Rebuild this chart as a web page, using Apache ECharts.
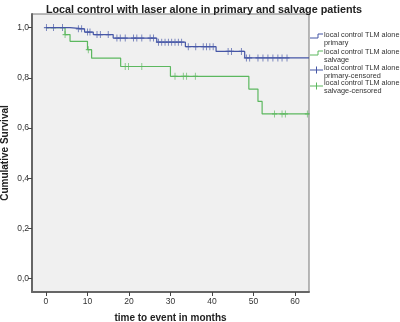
<!DOCTYPE html>
<html><head><meta charset="utf-8">
<script src="https://cdn.jsdelivr.net/npm/echarts@6/dist/echarts.min.js"></script>
<style>html,body{margin:0;padding:0;background:#fff}#c{width:400px;height:322px}</style>
</head><body><div id="c"></div>
<script>
// Kaplan-Meier step data (time in months, cumulative survival)
const primaryTimes = [0, 5.8, 9.3, 11.4, 16.2, 26.7, 33.6, 41.0, 47.9, 63.4];
const primarySurv  = [1.0, 0.995, 0.982, 0.972, 0.958, 0.942, 0.924, 0.905, 0.879, 0.879];
const salvageTimes = [0, 4.6, 5.8, 10.0, 11.0, 18.0, 30.0, 48.9, 51.1, 52.1, 63.4];
const salvageSurv  = [1.0, 0.972, 0.945, 0.912, 0.878, 0.845, 0.806, 0.755, 0.706, 0.656, 0.656];
const primaryCensored = [0.1, 1.8, 4.0, 7.8, 8.6, 10.0, 10.6, 12.3, 13.1, 15.0, 17.1, 17.9, 19.1, 21.1, 21.9, 23.1, 25.1, 25.9,
  27.1, 27.9, 28.7, 29.5, 30.3, 31.1, 31.9, 32.7, 34.3, 36.1, 37.9, 38.7, 39.5, 40.3, 43.9, 44.7, 47.1,
  48.3, 49.1, 51.1, 52.3, 53.5, 54.7, 55.9, 56.9, 58.1];
const salvageCensored = [4.6, 10.2, 19.1, 19.9, 23.1, 31.1, 33.1, 33.9, 36.0, 55.1, 56.9, 57.7, 63.0];
const xTicks = [0, 10, 20, 30, 40, 50, 60];
const yTicks = [0, 0.2, 0.4, 0.6, 0.8, 1.0];

const blue = '#4556a6', green = '#5cb85f';
function stepAt(times, surv, t) { let v = surv[0]; for (let i = 0; i < times.length; i++) { if (times[i] <= t) v = surv[i]; } return v; }
const pts = (ts, ss) => ts.map((t, i) => [t, ss[i]]);
const cens = (cs, ts, ss) => cs.map(t => [t, stepAt(ts, ss, t)]);
const plus = 'path://M5,0V10M1,5H9';

const chart = echarts.init(document.getElementById('c'), null, {renderer: 'canvas'});
const FF = '"Liberation Sans", Arial, sans-serif';
chart.setOption({
  animation: false,
  title: { text: 'Local control with laser alone in primary and salvage patients', left: 199, top: 0, textAlign: 'center',
    textStyle: { fontFamily: FF, fontSize: 10.8, fontWeight: 'bold', color: '#222' } },
  grid: { left: 32, right: 91, top: 14, bottom: 30, outerBoundsMode: 'none', containLabel: false,
    show: true, backgroundColor: '#f0f0f0', borderColor: '#777', borderWidth: 1 },
  xAxis: { type: 'value', min: -3.37, max: 63.4,
    name: 'time to event in months', nameLocation: 'middle', nameGap: 21, nameMoveOverlap: false,
    nameTextStyle: { fontFamily: FF, fontSize: 10, fontWeight: 'bold', color: '#222' },
    axisLine: { show: true, onZero: false, lineStyle: { color: '#666', width: 2 } },
    axisTick: { show: true, customValues: xTicks, length: 4, lineStyle: { color: '#444' } },
    axisLabel: { customValues: xTicks, fontFamily: FF, fontSize: 8.5, color: '#333', margin: 5 },
    splitLine: { show: false } },
  yAxis: { type: 'value', min: -0.053, max: 1.054,
    name: 'Cumulative Survival', nameLocation: 'middle', nameGap: 22, nameRotate: 90, nameMoveOverlap: false,
    nameTextStyle: { fontFamily: FF, fontSize: 10, fontWeight: 'bold', color: '#222' },
    axisLine: { show: true, onZero: false, lineStyle: { color: '#666', width: 2 } },
    axisTick: { show: true, customValues: yTicks, length: 4, lineStyle: { color: '#444' } },
    axisLabel: { customValues: yTicks, fontFamily: FF, fontSize: 8.5, color: '#333', margin: 3,
      formatter: v => v.toFixed(1).replace('.', ',') },
    splitLine: { show: false } },
  series: [
    { type: 'line', step: 'end', data: pts(salvageTimes, salvageSurv), showSymbol: false, lineStyle: { color: green, width: 1.2 } },
    { type: 'line', step: 'end', data: pts(primaryTimes, primarySurv), showSymbol: false, lineStyle: { color: blue, width: 1.2 } },
    { type: 'scatter', data: cens(salvageCensored, salvageTimes, salvageSurv), symbol: plus, symbolSize: [5, 7],
      itemStyle: { color: 'none', borderColor: green, borderWidth: 1 } },
    { type: 'scatter', data: cens(primaryCensored, primaryTimes, primarySurv), symbol: plus, symbolSize: [5, 7],
      itemStyle: { color: 'none', borderColor: blue, borderWidth: 1 } }
  ],
  graphic: [
    { type: 'polyline', shape: { points: [[310, 38], [318, 38], [318, 34], [323, 34]] }, style: { stroke: blue, lineWidth: 1, fill: null } },
    { type: 'polyline', shape: { points: [[310, 55], [318, 55], [318, 51], [323, 51]] }, style: { stroke: green, lineWidth: 1, fill: null } },
    { type: 'polyline', shape: { points: [[310, 70], [323, 70]] }, style: { stroke: blue, lineWidth: 1 } },
    { type: 'polyline', shape: { points: [[316.5, 66.5], [316.5, 73.5]] }, style: { stroke: blue, lineWidth: 1 } },
    { type: 'polyline', shape: { points: [[310, 86], [323, 86]] }, style: { stroke: green, lineWidth: 1 } },
    { type: 'polyline', shape: { points: [[316.5, 82.5], [316.5, 89.5]] }, style: { stroke: green, lineWidth: 1 } },
    { type: 'text', left: 324, top: 31, style: { text: 'local control TLM alone\nprimary', font: '7.3px ' + FF, fill: '#333', lineHeight: 8 } },
    { type: 'text', left: 324, top: 47.5, style: { text: 'local control TLM alone\nsalvage', font: '7.3px ' + FF, fill: '#333', lineHeight: 8 } },
    { type: 'text', left: 324, top: 63.5, style: { text: 'local control TLM alone\nprimary-censored', font: '7.3px ' + FF, fill: '#333', lineHeight: 8 } },
    { type: 'text', left: 324, top: 79, style: { text: 'local control TLM alone\nsalvage-censored', font: '7.3px ' + FF, fill: '#333', lineHeight: 8 } }
  ]
});
</script></body></html>
